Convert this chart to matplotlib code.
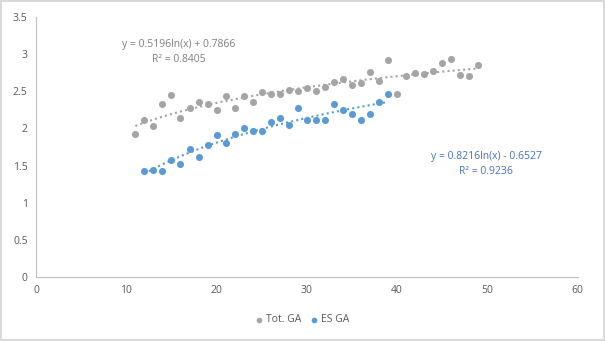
import numpy as np
import matplotlib.pyplot as plt

# Tot. GA series
tot_x = [11, 12, 13, 14, 15, 16, 17, 18, 19, 20, 21, 22, 23, 24, 25, 26, 27, 28, 29,
         30, 31, 32, 33, 34, 35, 36, 37, 38, 39, 40, 41, 42, 43, 44, 45, 46, 47, 48, 49]
tot_y = [1.92, 2.12, 2.03, 2.33, 2.45, 2.14, 2.27, 2.35, 2.33, 2.25, 2.43, 2.28, 2.43, 2.35,
         2.49, 2.47, 2.46, 2.52, 2.51, 2.55, 2.51, 2.56, 2.63, 2.66, 2.58, 2.61, 2.76, 2.64,
         2.92, 2.47, 2.71, 2.74, 2.73, 2.78, 2.88, 2.94, 2.72, 2.70, 2.86]

# ES GA series
es_x = [12, 13, 14, 15, 16, 17, 18, 19, 20, 21, 22, 23, 24, 25, 26, 27, 28, 29,
        30, 31, 32, 33, 34, 35, 36, 37, 38, 39]
es_y = [1.42, 1.44, 1.42, 1.57, 1.52, 1.72, 1.61, 1.77, 1.91, 1.81, 1.92, 2.00, 1.96, 1.97,
        2.08, 2.14, 2.04, 2.28, 2.11, 2.12, 2.11, 2.33, 2.25, 2.19, 2.12, 2.19, 2.35, 2.47]

# log trendline coefficients (a*ln(x) + b) as shown on the chart
tot_fit = (0.5196, 0.7866)
es_fit = (0.8216, -0.6527)

GRAY = '#A5A5A5'
BLUE = '#5B9BD5'
plt.rcParams['font.family'] = ['Open Sans', 'DejaVu Sans']

fig = plt.figure(figsize=(6.05, 3.41), dpi=100)
fig.patch.set_edgecolor('#D9D9D9')
fig.patch.set_linewidth(1.5)
ax = fig.add_axes([0.0595, 0.188, 0.8955, 0.762])

ax.scatter(tot_x, tot_y, s=26, color=GRAY, label='Tot. GA', zorder=3, linewidths=0)
ax.scatter(es_x, es_y, s=26, color=BLUE, label='ES GA', zorder=3, linewidths=0)

xt = np.linspace(min(tot_x), max(tot_x), 100)
ax.plot(xt, tot_fit[0] * np.log(xt) + tot_fit[1], ls=(0, (1, 1.5)), lw=1.5, color=GRAY, zorder=2)
xe = np.linspace(min(es_x), max(es_x), 100)
ax.plot(xe, es_fit[0] * np.log(xe) + es_fit[1], ls=(0, (1, 1.5)), lw=1.5, color=BLUE, zorder=2)

ax.text(179 / 605, 1 - 45 / 341, 'y = 0.5196ln(x) + 0.7866', transform=fig.transFigure,
        ha='center', va='center', fontsize=7.5, color='#7F7F7F')
ax.text(179 / 605, 1 - 60 / 341, 'R² = 0.8405', transform=fig.transFigure,
        ha='center', va='center', fontsize=7.5, color='#7F7F7F')
ax.text(486 / 605, 1 - 156 / 341, 'y = 0.8216ln(x) - 0.6527', transform=fig.transFigure,
        ha='center', va='center', fontsize=7.5, color='#4472C4')
ax.text(486 / 605, 1 - 172 / 341, 'R² = 0.9236', transform=fig.transFigure,
        ha='center', va='center', fontsize=7.5, color='#4472C4')

ax.set_xlim(0, 60)
ax.set_ylim(0, 3.5)
ax.set_xticks(np.arange(0, 61, 10))
ax.set_yticks(np.arange(0, 3.51, 0.5))
ax.set_yticklabels(['0', '0.5', '1', '1.5', '2', '2.5', '3', '3.5'])
ax.tick_params(length=0, labelsize=7.5, labelcolor='#595959', pad=6)
for s in ['top', 'right']:
    ax.spines[s].set_visible(False)
for s in ['left', 'bottom']:
    ax.spines[s].set_color('#BFBFBF')

fig.legend(loc='center', bbox_to_anchor=(0.5, 1 - 320 / 341), ncol=2, frameon=False,
           fontsize=7.5, labelcolor='#595959', handlelength=0.6, handletextpad=0.3,
           columnspacing=1.0, markerscale=0.8)

fig.savefig('out.png', dpi=100)
